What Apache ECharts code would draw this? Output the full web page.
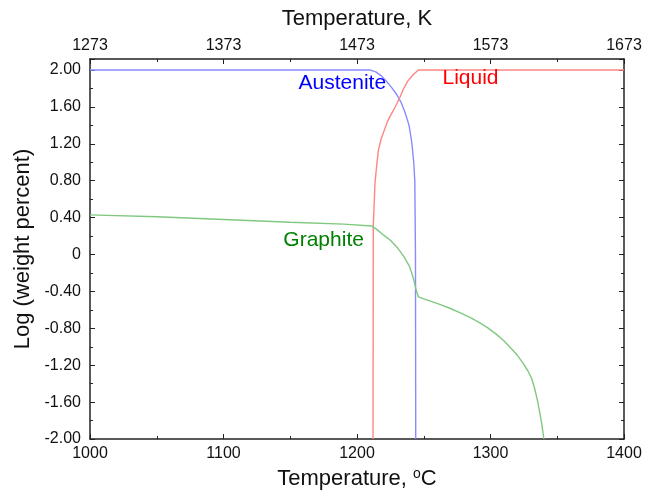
<!DOCTYPE html>
<html><head><meta charset="utf-8">
<script src="https://cdn.jsdelivr.net/npm/echarts@6/dist/echarts.min.js"></script>
<style>html,body{margin:0;padding:0;background:#fff}#c{width:658px;height:494px}</style>
</head><body><div id="c"></div>
<script>
// Temperatures in °C, values as log(weight percent)
const austeniteT   = [1000, 1100, 1200, 1210, 1214, 1218, 1222, 1226, 1230, 1233, 1236, 1239, 1241, 1242.5, 1243.3, 1243.8, 1244];
const austeniteLog = [2.00, 2.00, 2.00, 2.00, 1.98, 1.94, 1.88, 1.81, 1.73, 1.65, 1.54, 1.40, 1.22, 1.00, 0.80, 0.00, -2.00];

const liquidT   = [1212, 1212.2, 1213, 1213.5, 1215, 1216, 1218, 1220, 1223, 1226, 1229, 1232, 1235, 1238, 1242, 1246, 1300, 1400];
const liquidLog = [-2.00, 0.30, 0.60, 0.78, 1.00, 1.13, 1.25, 1.33, 1.45, 1.53, 1.61, 1.70, 1.80, 1.88, 1.95, 2.00, 2.00, 2.00];

const graphiteT   = [1000, 1050, 1100, 1150, 1190, 1211, 1215, 1220, 1225, 1230, 1235, 1239, 1241, 1243, 1244.2, 1246, 1250, 1255, 1262, 1270, 1277, 1285, 1292, 1298, 1304, 1310, 1315, 1320, 1324, 1328, 1331, 1333, 1335, 1337, 1338.5, 1340];
const graphiteLog = [0.43, 0.41, 0.38, 0.35, 0.33, 0.31, 0.27, 0.21, 0.155, 0.08, -0.02, -0.12, -0.20, -0.30, -0.38, -0.46, -0.48, -0.505, -0.54, -0.585, -0.63, -0.685, -0.74, -0.795, -0.86, -0.935, -1.01, -1.09, -1.17, -1.26, -1.35, -1.45, -1.57, -1.72, -1.85, -2.00];

const xMinC = 1000, xMaxC = 1400, xStepC = 100;
const kelvinOffset = 273;
const yMin = -2.0, yMaxLabel = 2.0, yMaxFrame = 2.12, yStep = 0.4;

const seriesNames = ['Austenite', 'Liquid', 'Graphite'];
const lineColors  = ['#8a8aff', '#ff8585', '#80c880'];
const textColors  = ['#0000ff', '#ff0000', '#008000'];
const labelAt     = [[1189, 1.86], [1285, 1.91], [1175, 0.16]];

const zip = (a, b) => a.map((v, i) => [v, b[i]]);
const FONT = '"Liberation Sans", Arial, sans-serif';
const gridPos = {left: 90, right: 34, top: 59, bottom: 55, containLabel: false, outerBoundsMode: 'none'};
const axisLine = {show: true, onZero: false, lineStyle: {color: '#222', width: 1.5}};
const tickLbl = {color: '#111', fontSize: 16, fontFamily: FONT};

const yFormatter = v => {
  if (v > yMaxLabel + 0.01) return '';
  const r = Math.round(v / yStep);
  if (Math.abs(v - r * yStep) > 1e-6) return '';
  return Math.abs(v) < 1e-9 ? '0' : v.toFixed(2);
};

const chart = echarts.init(document.getElementById('c'), null, {renderer: 'canvas'});
const data = [zip(austeniteT, austeniteLog), zip(liquidT, liquidLog), zip(graphiteT, graphiteLog)];

chart.setOption({
  animation: false,
  backgroundColor: '#fff',
  grid: [Object.assign({}, gridPos), Object.assign({}, gridPos)],
  xAxis: [
    {type: 'value', gridIndex: 0, position: 'bottom', min: xMinC, max: xMaxC, interval: xStepC,
     axisLine, splitLine: {show: false},
     axisTick: {show: true, inside: true, length: 5, lineStyle: {color: '#222'}},
     minorTick: {show: true, splitNumber: 2, length: 3, lineStyle: {color: '#222'}},
     axisLabel: Object.assign({margin: 7, formatter: v => String(v)}, tickLbl),
     name: '{t|Temperature, }{s|o}{t|C}', nameLocation: 'middle', nameGap: 28,
     nameTextStyle: {rich: {t: {fontSize: 22, fontFamily: FONT, color: '#111'},
                            s: {fontSize: 14, fontFamily: FONT, color: '#111', padding: [0, 0, 10, 0]}}}},
    {type: 'value', gridIndex: 0, position: 'top', min: xMinC, max: xMaxC, interval: xStepC,
     axisLine, splitLine: {show: false},
     axisTick: {show: true, inside: true, length: 5, lineStyle: {color: '#222'}},
     minorTick: {show: true, splitNumber: 2, length: 3, lineStyle: {color: '#222'}},
     axisLabel: Object.assign({margin: 5, formatter: v => String(v + kelvinOffset)}, tickLbl),
     name: 'Temperature, K', nameLocation: 'middle', nameGap: 29,
     nameTextStyle: {fontSize: 22, fontFamily: FONT, color: '#111'}},
    {type: 'value', gridIndex: 1, min: xMinC, max: xMaxC, show: false}
  ],
  yAxis: [
    {type: 'value', gridIndex: 0, position: 'left', min: yMin, max: yMaxFrame, interval: yStep,
     axisLine, splitLine: {show: false},
     axisTick: {show: true, inside: true, length: 5, lineStyle: {color: '#222'}},
     axisLabel: Object.assign({margin: 9, formatter: yFormatter}, tickLbl),
     name: 'Log (weight percent)', nameLocation: 'middle', nameGap: 53,
     nameTextStyle: {fontSize: 22, fontFamily: FONT, color: '#111'}},
    {type: 'value', gridIndex: 0, position: 'right', min: yMin, max: yMaxFrame, interval: yStep,
     axisLine, splitLine: {show: false},
     axisTick: {show: true, inside: true, length: 5, lineStyle: {color: '#222'}},
     axisLabel: {show: false}},
    {type: 'value', gridIndex: 1, position: 'left', min: yMin, max: yMaxFrame, interval: yStep / 2,
     axisLine: {show: false}, splitLine: {show: false},
     axisTick: {show: true, inside: true, length: 3, lineStyle: {color: '#222'}},
     axisLabel: {show: false}},
    {type: 'value', gridIndex: 1, position: 'right', min: yMin, max: yMaxFrame, interval: yStep / 2,
     axisLine: {show: false}, splitLine: {show: false},
     axisTick: {show: true, inside: true, length: 3, lineStyle: {color: '#222'}},
     axisLabel: {show: false}}
  ],
  series: seriesNames.map((n, i) => ({
    name: n, type: 'line', xAxisIndex: 0, yAxisIndex: 0, data: data[i],
    showSymbol: false, symbol: 'none', smooth: false, clip: true,
    lineStyle: {color: lineColors[i], width: 1.4}, z: 3,
    markPoint: {symbol: 'circle', symbolSize: 0, silent: true,
      data: [{coord: labelAt[i], value: n}],
      label: {show: true, position: 'inside', formatter: n, color: textColors[i], fontSize: 21, fontFamily: FONT}}
  }))
});
</script>
</body></html>
